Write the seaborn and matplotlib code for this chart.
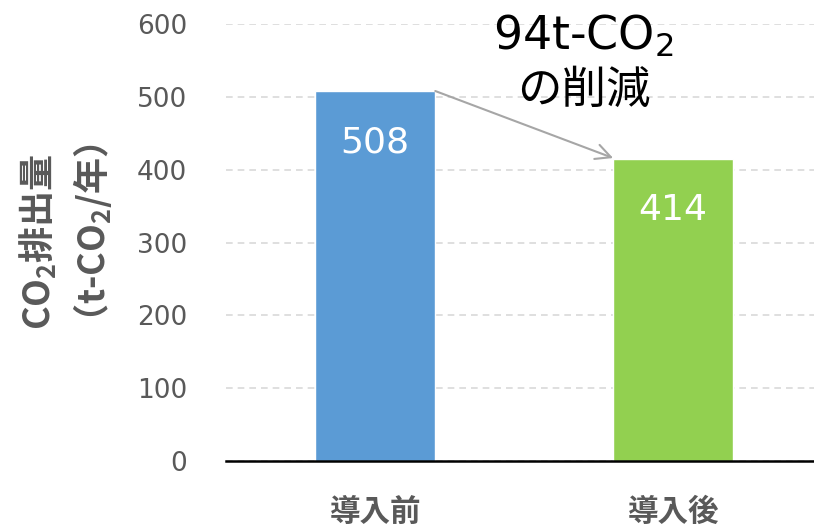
import pandas as pd
import matplotlib
matplotlib.use("Agg")
import matplotlib.pyplot as plt
import seaborn as sns

# --- dades ---
categories = ["導入前", "導入後"]
emissions = [508, 414]
bar_colors = ["#5B9BD5", "#92D050"]
reduction_top = "94t-CO$_2$"
reduction_bottom = "の削減"
ylabel_lines = ["CO$_2$排出量", "（t-CO$_2$/年）"]
y_ticks = [0, 100, 200, 300, 400, 500, 600]

df = pd.DataFrame({"stage": categories, "co2": emissions})

sns.set_theme(style="white")
plt.rcParams["font.family"] = ["DejaVu Sans", "Noto Sans CJK JP"]
plt.rcParams["mathtext.default"] = "regular"

fig = plt.figure(figsize=(8.14, 5.29), dpi=100)
ax = fig.add_axes([0.278, 0.1285, 0.732, 0.8261])

bar_w = 0.403
sns.barplot(data=df, x="stage", y="co2", hue="stage", palette=bar_colors,
            width=bar_w, legend=False, ax=ax, saturation=1)

ax.set_xlim(-0.5, 1.5)
ax.set_ylim(0, 600)
ax.set_yticks(y_ticks)
ax.yaxis.grid(True, color="#D9D9D9", linestyle=(0, (4, 3)), linewidth=1.2)
ax.set_axisbelow(True)
for s in ["top", "right", "left"]:
    ax.spines[s].set_visible(False)
ax.spines["bottom"].set_color("black")
ax.spines["bottom"].set_linewidth(1.8)
ax.tick_params(axis="y", length=0, pad=28, labelsize=19, labelcolor="#595959")
ax.tick_params(axis="x", length=0, pad=25, labelsize=22, labelcolor="#595959")
for t in ax.get_xticklabels():
    t.set_fontweight("bold")
    t.set_family(["Noto Sans CJK JP"])

ax.set_xlabel("")
ax.set_ylabel("")
# etiqueta de l'eix Y en dues línies
for xpos, line in zip([0.046, 0.114], ylabel_lines):
    fig.text(xpos, 0.5425, line, rotation=90, ha="center", va="center",
             fontsize=26, fontweight="bold", color="#595959",
             family=["Noto Sans CJK JP"])

# etiquetes de valor
for i, v in enumerate(emissions):
    ax.text(i, v - 70, f"{v}", ha="center", va="center", color="white", fontsize=26)

# fletxa de reducció
ax.annotate("", xy=(1 - bar_w / 2, emissions[1] + 2), xytext=(bar_w / 2, emissions[0]),
            arrowprops=dict(arrowstyle="->,head_length=0.9,head_width=0.45",
                            color="#A6A6A6", linewidth=1.5, shrinkA=0, shrinkB=0))
ax.text(0.7, 583, reduction_top, ha="center", va="center", fontsize=33, color="black")
ax.text(0.7, 510, reduction_bottom, ha="center", va="center", fontsize=32, color="black",
        family=["Noto Sans CJK JP"])

plt.savefig("out.png", dpi=100)
